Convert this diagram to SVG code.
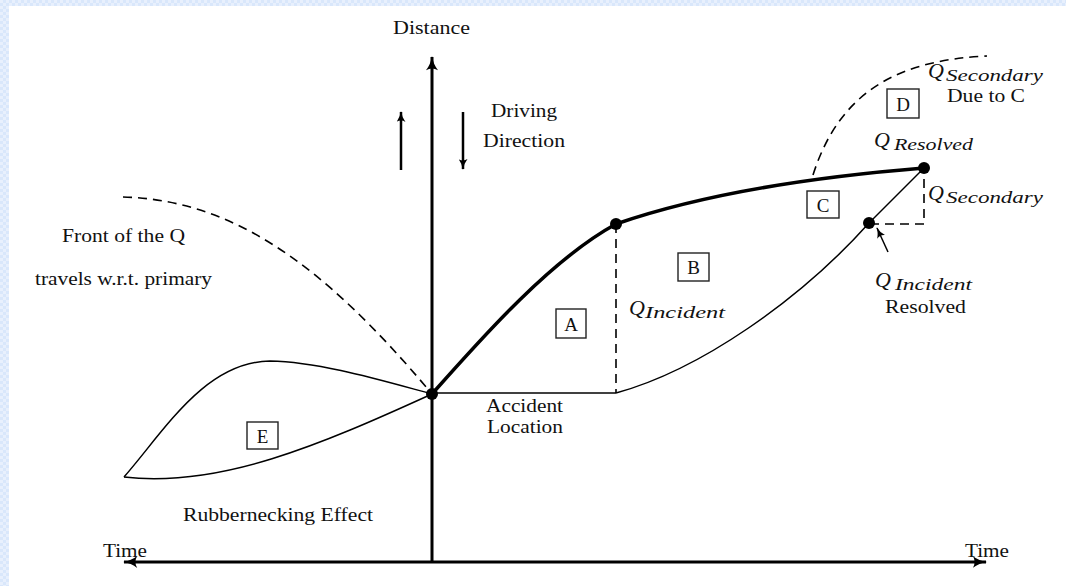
<svg xmlns="http://www.w3.org/2000/svg" width="1066" height="586" viewBox="0 0 1066 586">
<defs>
<pattern id="chk" width="6" height="6" patternUnits="userSpaceOnUse">
<rect width="6" height="6" fill="#d9e7fb"/>
<rect width="3" height="3" fill="#e8f0fd"/>
<rect x="3" y="3" width="3" height="3" fill="#e8f0fd"/>
</pattern>
<marker id="ah" viewBox="0 0 12 10" refX="11" refY="5" markerWidth="15" markerHeight="12" markerUnits="userSpaceOnUse" orient="auto">
<path d="M0,0 Q5,4 12,5 Q5,6 0,10 Q3,5 0,0 Z" fill="#000"/>
</marker>
<marker id="ahs" viewBox="0 0 12 10" refX="11" refY="5" markerWidth="11" markerHeight="9" markerUnits="userSpaceOnUse" orient="auto">
<path d="M0,0 Q5,4 12,5 Q5,6 0,10 Q3,5 0,0 Z" fill="#000"/>
</marker>
</defs>
<style>
.t{font-family:"Liberation Serif","Times New Roman",serif;font-size:18px;fill:#111}
.m{font-family:"Liberation Serif","Times New Roman",serif;font-style:italic;fill:#111}
.q{font-size:22px}
.s{font-size:16px}
.box{fill:#fff;stroke:#222;stroke-width:1.4}
.bl{font-family:"Liberation Serif","Times New Roman",serif;font-size:19px;fill:#111;text-anchor:middle}
.thin{fill:none;stroke:#000;stroke-width:1.5}
.thick{fill:none;stroke:#000;stroke-width:3.5}
.dash{fill:none;stroke:#000;stroke-width:1.6;stroke-dasharray:9 6}
.axis{fill:none;stroke:#000;stroke-width:3}
.dot{fill:#000}
</style>
<rect width="1066" height="586" fill="#fff"/>
<rect x="0" y="0" width="1066" height="6" fill="url(#chk)"/>
<rect x="0" y="0" width="9" height="586" fill="url(#chk)"/>

<g id="connectors">
<line class="axis" x1="432" y1="562" x2="432" y2="57" marker-end="url(#ah)"/>
<line class="axis" x1="432" y1="562" x2="124" y2="562" marker-end="url(#ah)"/>
<line class="axis" x1="432" y1="562" x2="986" y2="562" marker-end="url(#ah)"/>
<line x1="401" y1="170" x2="401" y2="112" stroke="#000" stroke-width="2.5" marker-end="url(#ahs)"/>
<line x1="463" y1="112" x2="463" y2="169" stroke="#000" stroke-width="2.5" marker-end="url(#ahs)"/>
<path class="dash" d="M123,197 C230,200 320,260 432,394"/>
<path class="thin" d="M124,477 C165,430 205,362 270,361 C320,362 380,380 432,394"/>
<path class="thin" d="M124,477 C220,488 320,445 432,394"/>
<path class="thick" d="M432,394 C480,340 550,260 616,224"/>
<path class="thick" d="M616,224 C700,195 800,178 924,168"/>
<line class="thin" x1="432" y1="393" x2="616" y2="393"/>
<line class="dash" x1="616" y1="224" x2="616" y2="393"/>
<path class="thin" d="M616,393 C700,370 800,300 869,223"/>
<line class="thin" x1="869" y1="223" x2="924" y2="168"/>
<path class="dash" d="M870,224 L924,224 L924,170"/>
<line x1="888" y1="252" x2="877" y2="228" stroke="#000" stroke-width="1.5" marker-end="url(#ahs)"/>
<path class="dash" d="M813,175 C840,90 900,60 987,56"/>
</g>

<g id="dots">
<circle class="dot" cx="432" cy="394" r="6"/>
<circle class="dot" cx="616" cy="224" r="6"/>
<circle class="dot" cx="924" cy="168" r="6"/>
<circle class="dot" cx="869" cy="223" r="6"/>
</g>

<g id="box-A"><rect class="box" x="556" y="309" width="30" height="29"/><text class="bl" x="571" y="331">A</text></g>
<g id="box-B"><rect class="box" x="678" y="253" width="31" height="28"/><text class="bl" x="693.5" y="274">B</text></g>
<g id="box-C"><rect class="box" x="807" y="191" width="32" height="27"/><text class="bl" x="823" y="212">C</text></g>
<g id="box-D"><rect class="box" x="887" y="89" width="32" height="29"/><text class="bl" x="903" y="111">D</text></g>
<g id="box-E"><rect class="box" x="247" y="422" width="31" height="27"/><text class="bl" x="262.5" y="443">E</text></g>

<g id="labels">
<text class="t" x="393" y="34" textLength="77" lengthAdjust="spacingAndGlyphs">Distance</text>
<text class="t" x="491" y="117" textLength="66" lengthAdjust="spacingAndGlyphs">Driving</text>
<text class="t" x="483" y="147" textLength="82" lengthAdjust="spacingAndGlyphs">Direction</text>
<text class="t" x="62" y="242" textLength="123" lengthAdjust="spacingAndGlyphs">Front of the Q</text>
<text class="t" x="35" y="285" textLength="177" lengthAdjust="spacingAndGlyphs">travels w.r.t. primary</text>
<text class="t" x="486" y="412" textLength="77" lengthAdjust="spacingAndGlyphs">Accident</text>
<text class="t" x="487" y="433" textLength="76" lengthAdjust="spacingAndGlyphs">Location</text>
<text class="t" x="183" y="521" textLength="190" lengthAdjust="spacingAndGlyphs">Rubbernecking Effect</text>
<text class="t" x="103" y="557" textLength="44" lengthAdjust="spacingAndGlyphs">Time</text>
<text class="t" x="965" y="557" textLength="44" lengthAdjust="spacingAndGlyphs">Time</text>
<text class="t" x="947" y="102" textLength="78" lengthAdjust="spacingAndGlyphs">Due to C</text>
<text class="t" x="885" y="313" textLength="81" lengthAdjust="spacingAndGlyphs">Resolved</text>
<text class="m"><tspan class="q" x="629" y="315">Q</tspan><tspan class="s" x="645" y="318" textLength="80" lengthAdjust="spacingAndGlyphs">Incident</tspan></text>
<text class="m"><tspan class="q" x="874" y="147">Q</tspan><tspan class="s" x="894" y="150" textLength="79" lengthAdjust="spacingAndGlyphs">Resolved</tspan></text>
<text class="m"><tspan class="q" x="928" y="78">Q</tspan><tspan class="s" x="946" y="81" textLength="97" lengthAdjust="spacingAndGlyphs">Secondary</tspan></text>
<text class="m"><tspan class="q" x="928" y="200">Q</tspan><tspan class="s" x="946" y="203" textLength="97" lengthAdjust="spacingAndGlyphs">Secondary</tspan></text>
<text class="m"><tspan class="q" x="875" y="287">Q</tspan><tspan class="s" x="895" y="290" textLength="77" lengthAdjust="spacingAndGlyphs">Incident</tspan></text>
</g>
</svg>
